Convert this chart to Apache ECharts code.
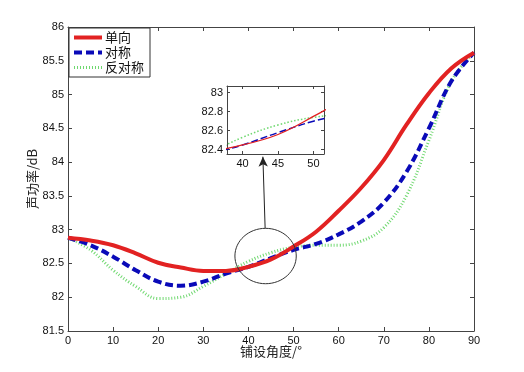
<!DOCTYPE html>
<html><head><meta charset="utf-8">
<script src="https://cdn.jsdelivr.net/npm/echarts@6/dist/echarts.min.js"></script>
<style>html,body{margin:0;padding:0;background:#fff}#c{width:524px;height:372px}</style>
</head><body><div id="c"></div>
<script>
// ---- data ----
const angles = [0, 5, 10, 15, 20, 25, 30, 35, 40, 45, 50, 55, 60, 65, 70, 75, 80, 85, 90];
const oneWay = [82.88, 82.84, 82.77, 82.65, 82.51, 82.44, 82.39, 82.39, 82.45, 82.56, 82.75, 82.97, 83.28, 83.62, 84.03, 84.55, 85.02, 85.39, 85.62];
const symmetric = [82.88, 82.77, 82.60, 82.40, 82.23, 82.17, 82.23, 82.35, 82.45, 82.58, 82.70, 82.79, 82.93, 83.12, 83.40, 83.85, 84.50, 85.20, 85.62];
const antiSymmetric = [82.88, 82.70, 82.40, 82.16, 81.98, 82.00, 82.16, 82.35, 82.53, 82.66, 82.74, 82.77, 82.77, 82.83, 83.03, 83.50, 84.32, 85.20, 85.62];
const seriesNames = ['单向', '对称', '反对称'];
const xAxisName = '铺设角度/°';
const yAxisName = '声功率/dB';
const insetXTicks = [40, 45, 50];
const insetYTicks = [82.4, 82.6, 82.8, 83];
// zoom region marker: centre angle, centre value, half-width, half-height
const zoomEllipse = [43.8, 82.61, 6.8, 0.41];
const arrowFrom = [43.7, 83.02];
const arrowTo = [43.2, 84.08];

const pairs = arr => angles.map((a, i) => [a, arr[i]]);
const font = 'Liberation Sans, Arial, sans-serif';
const cjk = 'Noto Sans CJK SC, sans-serif';
const axisColor = '#444';

const colors = ['#e22222', '#0a0ab8', '#6fd86f'];
const mainStyles = [
  { color: colors[0], width: 4, type: 'solid' },
  { color: colors[1], width: 4, type: [8, 4] },
  { color: colors[2], width: 3, type: [1, 2] }
];
const insetStyles = [
  { color: colors[0], width: 1.3, type: 'solid' },
  { color: colors[1], width: 1.5, type: [7, 3] },
  { color: colors[2], width: 1.5, type: [1.5, 2] }
];
const dataSets = [oneWay, symmetric, antiSymmetric];

function boxAxis(opts) {
  return Object.assign({
    type: 'value',
    axisLine: { show: true, onZero: false, lineStyle: { color: axisColor, width: 1 } },
    axisTick: { show: true, inside: true, length: 4, lineStyle: { color: axisColor } },
    splitLine: { show: false },
    axisLabel: { show: false }
  }, opts);
}
const lbl = (m) => ({ show: true, color: '#111', fontSize: 11, fontFamily: font, margin: m });

const chart = echarts.init(document.getElementById('c'), null, { renderer: 'canvas' });

const series = [];
dataSets.forEach((d, i) => {
  series.push({
    name: seriesNames[i], type: 'line', xAxisIndex: 0, yAxisIndex: 0,
    data: pairs(d), smooth: 0.4, showSymbol: false, symbol: 'none', color: colors[i],
    itemStyle: { color: colors[i] },
    lineStyle: Object.assign({ cap: 'butt' }, mainStyles[i]), z: 3 - i + 2
  });
});
dataSets.forEach((d, i) => {
  series.push({
    name: seriesNames[i] + '_inset', type: 'line', xAxisIndex: 2, yAxisIndex: 2,
    data: pairs(d), smooth: 0.4, showSymbol: false, symbol: 'none', clip: true, color: colors[i],
    lineStyle: insetStyles[i], z: 12 - i
  });
});
series.push({
  type: 'custom', xAxisIndex: 0, yAxisIndex: 0, silent: true, z: 10,
  data: [zoomEllipse],
  renderItem: function (params, api) {
    const c = api.coord([api.value(0), api.value(1)]);
    const e = api.coord([api.value(0) + api.value(2), api.value(1) + api.value(3)]);
    return { type: 'ellipse', shape: { cx: c[0], cy: c[1], rx: Math.abs(e[0] - c[0]), ry: Math.abs(e[1] - c[1]) },
      style: { fill: 'none', stroke: '#333', lineWidth: 1 } };
  }
});
series.push({
  type: 'line', xAxisIndex: 0, yAxisIndex: 0, data: [], silent: true,
  markLine: {
    silent: true, symbol: ['none', 'arrow'], symbolSize: [7, 10],
    label: { show: false },
    lineStyle: { color: '#222', width: 1, type: 'solid' },
    data: [[{ coord: arrowFrom }, { coord: arrowTo }]]
  }
});

chart.setOption({
  animation: false,
  backgroundColor: '#fff',
  grid: [
    { left: 68, top: 27, right: 50, bottom: 41 },
    { left: 227, top: 86, width: 97, height: 68, backgroundColor: '#fff', show: true, borderWidth: 0, z: 1 }
  ],
  legend: {
    data: seriesNames.map((n, i) => ({ name: n, lineStyle: { width: mainStyles[i].width, type: mainStyles[i].type, color: colors[i] } })),
    orient: 'vertical', left: 69, top: 28,
    backgroundColor: '#fff', borderColor: '#333', borderWidth: 1,
    padding: [3, 6, 3, 3], itemGap: 2, itemWidth: 28, itemHeight: 10,
    itemStyle: { opacity: 0 },
    textStyle: { fontFamily: cjk, fontSize: 13, color: '#111', padding: [0, 0, 0, -2] }
  },
  xAxis: [
    boxAxis({ gridIndex: 0, position: 'bottom', min: 0, max: 90, interval: 10, axisLabel: lbl(4),
      name: xAxisName, nameLocation: 'middle', nameGap: 14, nameMoveOverlap: false,
      nameTextStyle: { fontFamily: cjk, fontSize: 13, color: '#222' } }),
    boxAxis({ gridIndex: 0, position: 'top', min: 0, max: 90, interval: 10 }),
    boxAxis({ gridIndex: 1, position: 'bottom', min: 37.8, max: 51.5, z: 9,
      axisTick: { show: true, inside: true, length: 3, customValues: insetXTicks, lineStyle: { color: axisColor } },
      axisLabel: Object.assign(lbl(4), { customValues: insetXTicks }) }),
    boxAxis({ gridIndex: 1, position: 'top', min: 37.8, max: 51.5, z: 9,
      axisTick: { show: true, inside: true, length: 3, customValues: insetXTicks, lineStyle: { color: axisColor } } })
  ],
  yAxis: [
    boxAxis({ gridIndex: 0, position: 'left', min: 81.5, max: 86, interval: 0.5, axisLabel: lbl(4),
      name: yAxisName, nameLocation: 'middle', nameGap: 29, nameMoveOverlap: false,
      nameTextStyle: { fontFamily: cjk, fontSize: 13, color: '#222' } }),
    boxAxis({ gridIndex: 0, position: 'right', min: 81.5, max: 86, interval: 0.5 }),
    boxAxis({ gridIndex: 1, position: 'left', min: 82.355, max: 83.07, z: 9,
      axisTick: { show: true, inside: true, length: 3, customValues: insetYTicks, lineStyle: { color: axisColor } },
      axisLabel: Object.assign(lbl(4), { customValues: insetYTicks }) }),
    boxAxis({ gridIndex: 1, position: 'right', min: 82.355, max: 83.07, z: 9,
      axisTick: { show: true, inside: true, length: 3, customValues: insetYTicks, lineStyle: { color: axisColor } } })
  ],
  series: series
});
</script>
</body></html>
